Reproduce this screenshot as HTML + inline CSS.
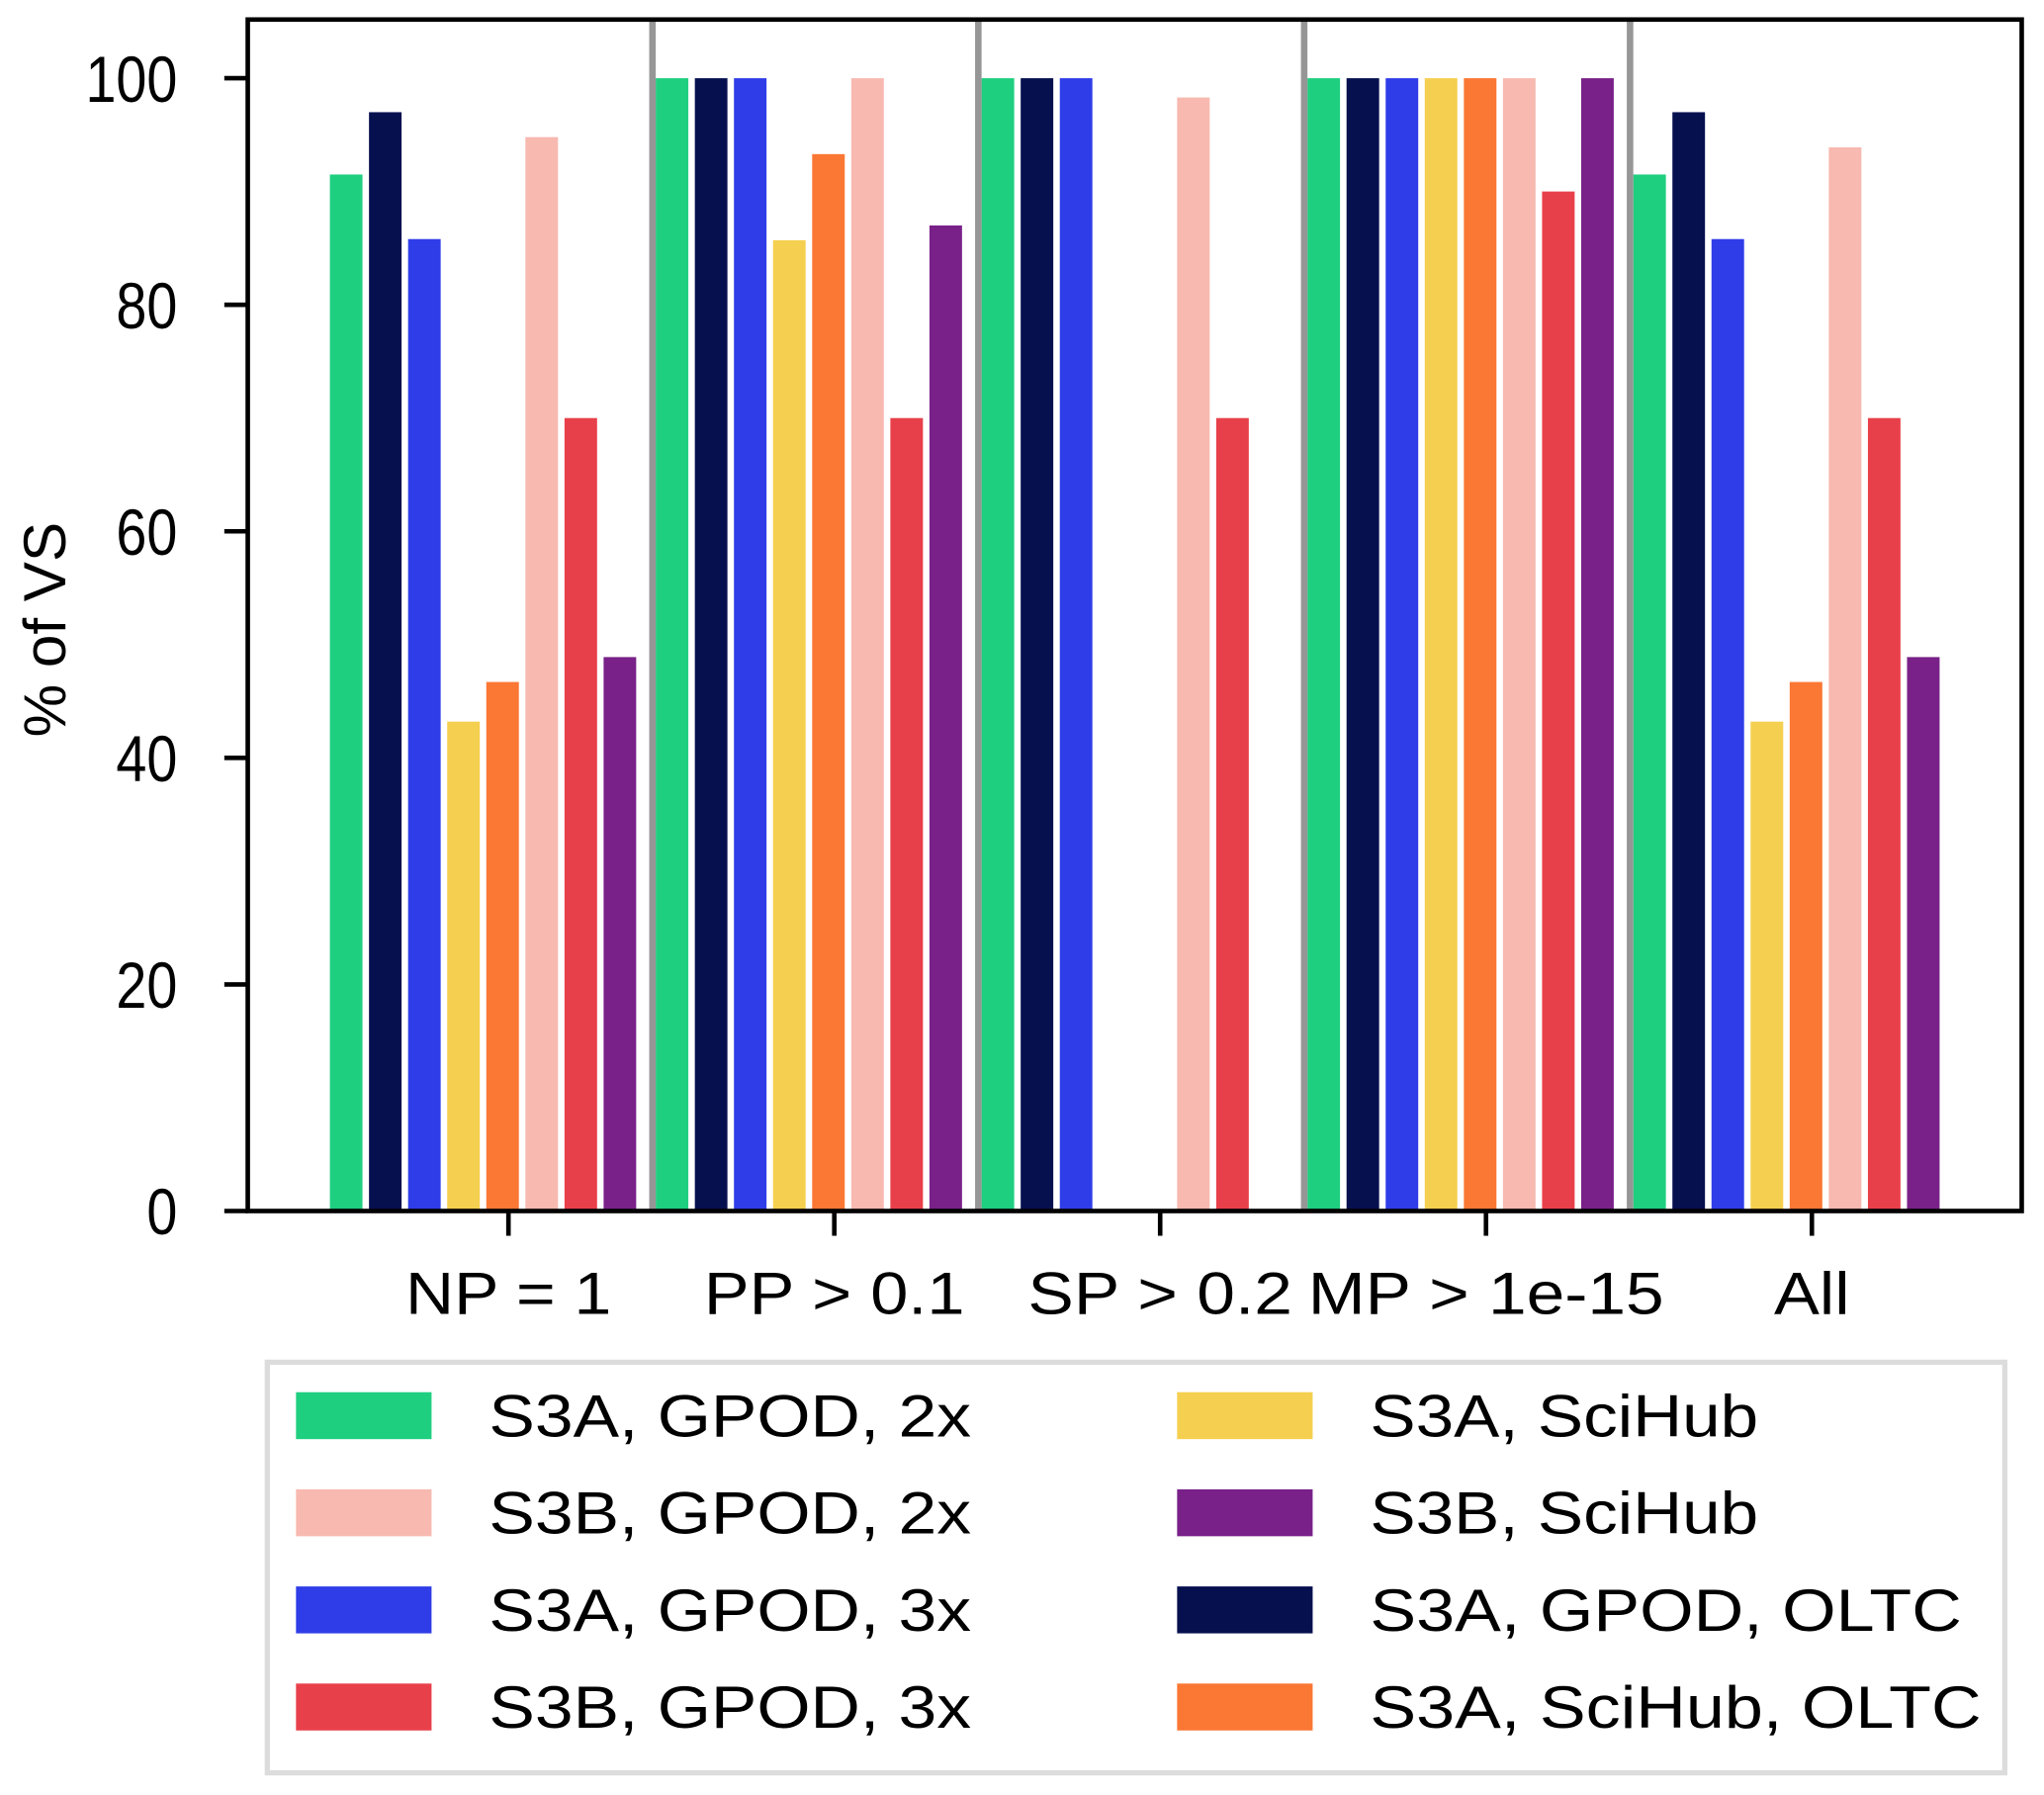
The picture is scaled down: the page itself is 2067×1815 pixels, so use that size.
<!DOCTYPE html>
<html><head><meta charset="utf-8"><style>
html,body{margin:0;padding:0;background:#fff;}
svg{display:block;font-family:"Liberation Sans",Arial,sans-serif;}
</style></head><body>
<svg id="chart" width="2067" height="1815" viewBox="0 0 1568 1377" xmlns="http://www.w3.org/2000/svg">
<g id="bars"></g>
<g id="seps"></g>
<rect x="190" y="15" width="1361" height="914" fill="none" stroke="#000" stroke-width="3.5"/>
<g id="yaxis"></g>
<g id="xaxis"></g>
<text transform="translate(50,483) rotate(-90)" text-anchor="middle" font-size="46" textLength="165" lengthAdjust="spacingAndGlyphs">% of VS</text>
<g id="legend">
<rect x="205" y="1045" width="1333" height="315" fill="#fff" stroke="#dcdcdc" stroke-width="4"/>
</g>
</svg>
<script>
const categories = ["NP = 1","PP > 0.1","SP > 0.2","MP > 1e-15","All"];
const seriesNames = ["S3A, GPOD, 2x","S3A, GPOD, OLTC","S3A, GPOD, 3x","S3A, SciHub","S3A, SciHub, OLTC","S3B, GPOD, 2x","S3B, GPOD, 3x","S3B, SciHub"];
const seriesColors = ["#1fcf80","#06104f","#2f3de8","#f5cf4f","#fb7734","#f7b9b0","#e8404a","#792189"];
const s3aGpod2x = [91.5,100,100,100,91.5];
const s3aGpodOltc = [97,100,100,100,97];
const s3aGpod3x = [85.8,100,100,100,85.8];
const s3aSciHub = [43.2,85.7,0,100,43.2];
const s3aSciHubOltc = [46.7,93.3,0,100,46.7];
const s3bGpod2x = [94.8,100,98.3,100,93.9];
const s3bGpod3x = [70,70,70,90,70];
const s3bSciHub = [48.9,87,0,100,48.9];
const seriesValues = [s3aGpod2x,s3aGpodOltc,s3aGpod3x,s3aSciHub,s3aSciHubOltc,s3bGpod2x,s3bGpod3x,s3bSciHub];
const yTicks = [0,20,40,60,80,100];
const legendOrder = [0,5,2,6,3,7,1,4];

const NS="http://www.w3.org/2000/svg";
const y0=929, pxPerUnit=8.69;
function yScale(v){return y0 - v*pxPerUnit;}
function xCenter(i){return 390 + i*250;}
function mk(tag,attrs,parent){const e=document.createElementNS(NS,tag);for(const k in attrs)e.setAttribute(k,attrs[k]);parent.appendChild(e);return e;}

const barsG=document.getElementById('bars');
categories.forEach((c,ci)=>{
  seriesValues.forEach((vals,si)=>{
    const v=vals[ci]; if(!(v>0))return;
    const cx=xCenter(ci)-124.5+si*30;
    const r=mk('rect',{x:cx-12.5,y:yScale(v),width:25,height:y0-yScale(v),fill:seriesColors[si]},barsG);
    
    
  });
});
const sepG=document.getElementById('seps');
for(let i=0;i<categories.length-1;i++){
  const x=xCenter(i)+110.5;
  const l=mk('line',{x1:x,x2:x,y1:15,y2:929,stroke:'#969696','stroke-width':5},sepG);
  
  
}
const yG=document.getElementById('yaxis');
yTicks.forEach(t=>{
  const y=yScale(t);
  const tk=mk('line',{x1:172,x2:190,y1:y,y2:y,stroke:'#000','stroke-width':3.5},yG);
  
  
  const s=String(t);
  const tx=mk('text',{x:136,y:y+18,'text-anchor':'end','font-size':50,textLength:s.length*23.5,lengthAdjust:'spacingAndGlyphs'},yG);
  tx.textContent=s;
  
  
});
const xLabelW=[158,200,203,273,58];
const xG=document.getElementById('xaxis');
categories.forEach((c,i)=>{
  const x=xCenter(i);
  const tk=mk('line',{x1:x,x2:x,y1:929,y2:948,stroke:'#000','stroke-width':3.5},xG);
  
  
  const tx=mk('text',{x:x,y:1008,'text-anchor':'middle','font-size':46,textLength:xLabelW[i],lengthAdjust:'spacingAndGlyphs'},xG);
  tx.textContent=c;
  
  
});
const legG=document.getElementById('legend');
const legW=[370,370,370,370,298,298,454,469];
legendOrder.forEach((si,k)=>{
  const col=Math.floor(k/4), row=k%4;
  const px=col?903:227, ty=1086+row*74.5;
  const p=mk('rect',{x:px,y:ty-18,width:104,height:36,fill:seriesColors[si]},legG);
  
  
  const t=mk('text',{x:px+148,y:ty+16,'font-size':46,textLength:legW[k],lengthAdjust:'spacingAndGlyphs'},legG);
  t.textContent=seriesNames[si];
  
  
});
</script>
</body></html>
